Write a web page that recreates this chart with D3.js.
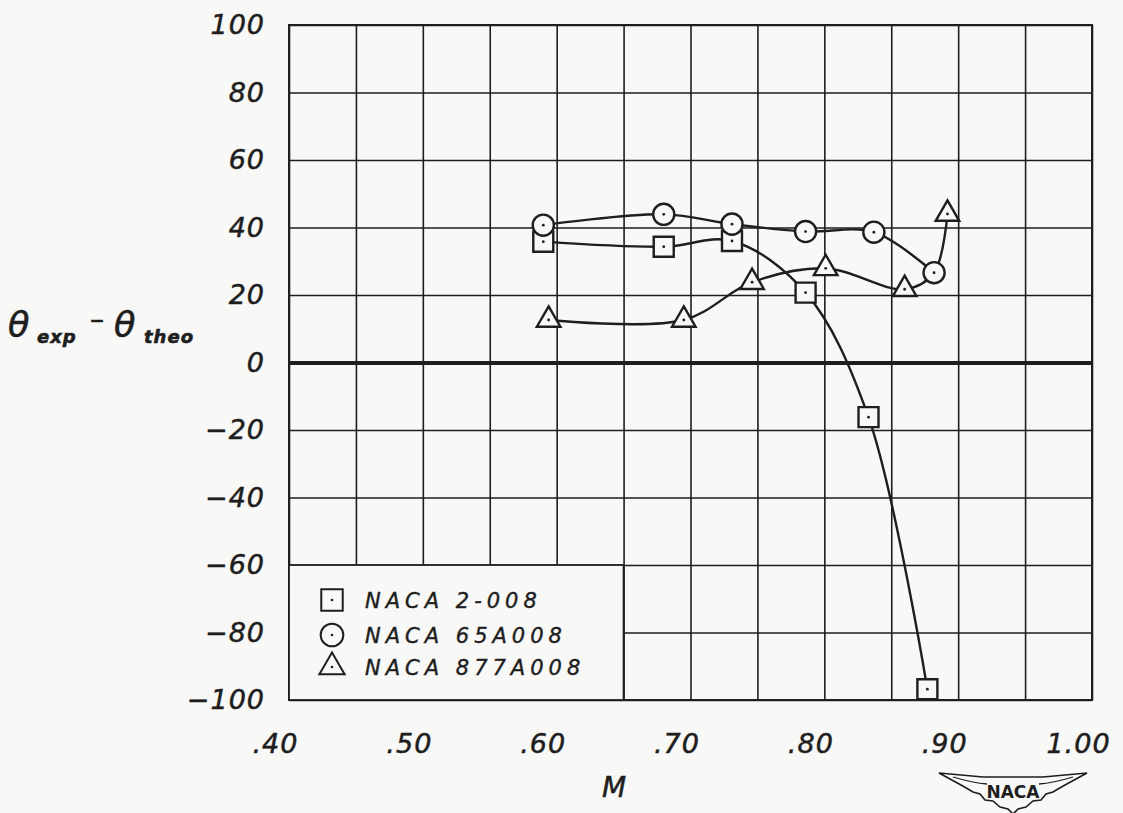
<!DOCTYPE html>
<html>
<head>
<meta charset="utf-8">
<script src="https://cdn.jsdelivr.net/npm/d3@7"></script>
<style>
  html, body { margin: 0; padding: 0; background: #f8f8f6; }
  svg { display: block; }
  text { font-family: "DejaVu Sans", sans-serif; fill: #1e1e1e; }
</style>
</head>
<body>
<svg id="chart" width="1123" height="813"></svg>
<script>
// tick values and labels
const xTicks = [0.40, 0.45, 0.50, 0.55, 0.60, 0.65, 0.70, 0.75, 0.80, 0.85, 0.90, 0.95, 1.00];
const xLabelTicks = [0.40, 0.50, 0.60, 0.70, 0.80, 0.90, 1.00];
const xLabels = ['.40', '.50', '.60', '.70', '.80', '.90', '1.00'];
const yTicks = [100, 80, 60, 40, 20, 0, -20, -40, -60, -80, -100];
const yLabels = ['100', '80', '60', '40', '20', '0', '\u221220', '\u221240', '\u221260', '\u221280', '\u2212100'];

// NACA 2-008 (squares)
const machA = [0.590, 0.680, 0.731, 0.786, 0.833, 0.877];
const thetaA = [35.8, 34.3, 36.0, 20.7, -16.2, -96.8];
// NACA 65A008 (circles)
const machB = [0.590, 0.680, 0.731, 0.786, 0.837, 0.882];
const thetaB = [40.7, 43.9, 41.0, 38.8, 38.6, 26.6];
// NACA 877A008 (triangles)
const machC = [0.594, 0.695, 0.746, 0.801, 0.860, 0.892];
const thetaC = [12.6, 12.6, 23.8, 27.9, 21.7, 44.0];
// the faired 877A008 curve bends through this point on its way to the last triangle
const machCurveC = [0.594, 0.695, 0.746, 0.801, 0.860, 0.882, 0.892];
const thetaCurveC = [12.6, 12.6, 23.8, 27.9, 21.7, 26.6, 44.0];

const seriesNames = ['NACA 2-008', 'NACA 65A008', 'NACA 877A008'];

const ink = '#1e1e1e';
const paper = '#f8f8f6';
const svg = d3.select('#chart');

const plotLeft = 289, plotRight = 1092, plotTop = 25, plotBottom = 700;
const x = d3.scaleLinear().domain([0.40, 1.00]).range([plotLeft, plotRight]);
const y = d3.scaleLinear().domain([-100, 100]).range([plotBottom, plotTop]);

// grid
svg.append('g')
  .attr('transform', `translate(0,${plotBottom})`)
  .call(d3.axisBottom(x).tickValues(xTicks).tickSize(-(plotBottom - plotTop)).tickFormat(''))
  .call(g => g.select('.domain').remove())
  .call(g => g.selectAll('line').attr('stroke', ink).attr('stroke-width', 1.6));

svg.append('g')
  .attr('transform', `translate(${plotLeft},0)`)
  .call(d3.axisLeft(y).tickValues(yTicks).tickSize(-(plotRight - plotLeft)).tickPadding(24)
    .tickFormat((d, i) => yLabels[i]))
  .call(g => g.select('.domain').remove())
  .call(g => g.selectAll('line')
    .attr('stroke', ink)
    .attr('stroke-width', d => d === 0 ? 4 : 1.6))
  .call(g => g.selectAll('text')
    .attr('font-size', 27)
    .attr('font-style', 'italic')
    .attr('letter-spacing', 1)
    .attr('font-family', '"DejaVu Sans", sans-serif')
    .attr('fill', ink)
    .attr('stroke', ink).attr('stroke-width', 0.5));

// x labels
svg.append('g')
  .attr('transform', `translate(0,${plotBottom})`)
  .call(d3.axisBottom(x).tickValues(xLabelTicks).tickSize(0).tickPadding(34)
    .tickFormat((d, i) => xLabels[i]))
  .call(g => g.select('.domain').remove())
  .call(g => g.selectAll('text')
    .attr('dx', -14)
    .attr('font-size', 27)
    .attr('font-style', 'italic')
    .attr('letter-spacing', 1)
    .attr('font-family', '"DejaVu Sans", sans-serif')
    .attr('fill', ink)
    .attr('stroke', ink).attr('stroke-width', 0.5));

// frame
svg.append('rect')
  .attr('x', plotLeft).attr('y', plotTop)
  .attr('width', plotRight - plotLeft).attr('height', plotBottom - plotTop)
  .attr('fill', 'none').attr('stroke', ink).attr('stroke-width', 2);

// curves
const line = d3.line()
  .x(d => x(d[0]))
  .y(d => y(d[1]))
  .curve(d3.curveCatmullRom.alpha(0.5));

const curves = [
  d3.zip(machA, thetaA),
  d3.zip(machB, thetaB),
  d3.zip(machCurveC, thetaCurveC)
];

svg.append('g')
  .selectAll('path')
  .data(curves)
  .join('path')
  .attr('d', line)
  .attr('fill', 'none')
  .attr('stroke', ink)
  .attr('stroke-width', 2.4);

// markers
const symbolTypes = [d3.symbolSquare, d3.symbolCircle, d3.symbolTriangle];
const symbolSizes = [400, 350, 240];
const markerData = [
  d3.zip(machA, thetaA),
  d3.zip(machB, thetaB),
  d3.zip(machC, thetaC)
];

markerData.forEach((pts, s) => {
  const g = svg.append('g');
  const m = g.selectAll('g')
    .data(pts)
    .join('g')
    .attr('transform', d => `translate(${x(d[0])},${y(d[1])})`);
  m.append('path')
    .attr('d', d3.symbol().type(symbolTypes[s]).size(symbolSizes[s]))
    .attr('fill', paper)
    .attr('stroke', ink)
    .attr('stroke-width', 2.4);
  m.append('circle').attr('r', 1.4).attr('fill', ink);
});

// legend box: from the left frame to the .65 grid line, between -60 and -100
const legend = svg.append('g');
legend.append('rect')
  .attr('x', plotLeft).attr('y', y(-60))
  .attr('width', x(0.65) - plotLeft).attr('height', y(-100) - y(-60))
  .attr('fill', paper).attr('stroke', ink).attr('stroke-width', 1.8);

const legendRows = [600, 635, 667];
seriesNames.forEach((name, i) => {
  const row = legend.append('g').attr('transform', `translate(332,${legendRows[i]})`);
  row.append('path')
    .attr('d', d3.symbol().type(symbolTypes[i]).size(symbolSizes[i] * 1.15))
    .attr('fill', 'none')
    .attr('stroke', ink)
    .attr('stroke-width', 2);
  row.append('circle').attr('r', 1.3).attr('fill', ink);
  row.append('text')
    .attr('x', 33)
    .attr('y', 8)
    .attr('font-size', 21)
    .attr('font-style', 'italic')
    .attr('letter-spacing', 5)
    .attr('stroke', ink).attr('stroke-width', 0.4)
    .text(name);
});

// axis titles
svg.append('text')
  .attr('x', 614).attr('y', 797)
  .attr('text-anchor', 'middle')
  .attr('font-size', 28)
  .attr('font-style', 'italic')
  .attr('stroke', ink).attr('stroke-width', 0.5)
  .text('M');

const yTitle = svg.append('g').attr('stroke', ink).attr('stroke-width', 0.6);
yTitle.append('text').attr('x', 8).attr('y', 337)
  .attr('font-size', 35).attr('font-style', 'italic').text('\u03b8');
yTitle.append('text').attr('x', 37).attr('y', 343)
  .attr('font-size', 18).attr('font-style', 'italic').attr('font-weight', 'bold')
  .attr('letter-spacing', 1).text('exp');
yTitle.append('text').attr('x', 90).attr('y', 329)
  .attr('font-size', 28).text('\u2013');
yTitle.append('text').attr('x', 114).attr('y', 337)
  .attr('font-size', 35).attr('font-style', 'italic').text('\u03b8');
yTitle.append('text').attr('x', 144).attr('y', 343)
  .attr('font-size', 18).attr('font-style', 'italic').attr('font-weight', 'bold')
  .attr('letter-spacing', 1).text('theo');

// NACA wings badge
const badge = svg.append('g').attr('transform', 'translate(1013,773)');
badge.append('path')
  .attr('d', 'M-74,0 L-30,4 L30,4 L74,0 L52,12 L45,16 L40,19 L33,21 L28,27 L20,28 L13,34 L5,36 L0,41 L-5,36 L-13,34 L-20,28 L-28,27 L-33,21 L-40,19 L-45,16 L-52,12 Z')
  .attr('fill', paper).attr('stroke', ink).attr('stroke-width', 1.6);
badge.append('path')
  .attr('d', 'M-60,4 Q-40,10 -26,11 M26,11 Q40,10 60,4')
  .attr('fill', 'none').attr('stroke', ink).attr('stroke-width', 1.3);
badge.append('text')
  .attr('x', 0).attr('y', 25)
  .attr('text-anchor', 'middle')
  .attr('font-size', 17)
  .attr('font-weight', 'bold')
  .attr('font-family', '"DejaVu Sans Condensed", "DejaVu Sans", sans-serif')
  .text('NACA');
</script>
</body>
</html>
